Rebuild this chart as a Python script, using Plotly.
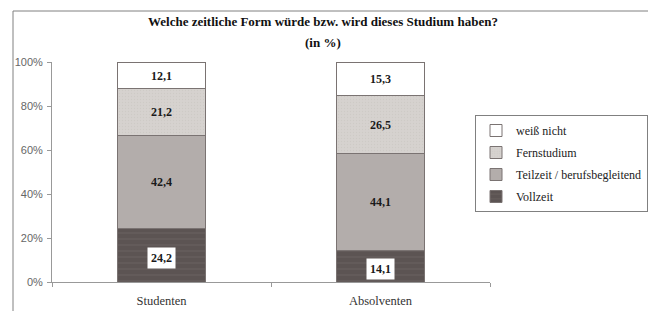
import plotly.graph_objects as go

categories = ["Studenten", "Absolventen"]
series_names = ["Vollzeit", "Teilzeit / berufsbegleitend", "Fernstudium", "weiß nicht"]
vollzeit = [24.2, 14.1]
teilzeit = [42.4, 44.1]
fernstudium = [21.2, 26.5]
weiss_nicht = [12.1, 15.3]
y_ticks = [0, 20, 40, 60, 80, 100]
y_tick_labels = ["0%", "20%", "40%", "60%", "80%", "100%"]

series_values = [vollzeit, teilzeit, fernstudium, weiss_nicht]
colors = ["#5c5453", "#b3adab", "#d6d2cf", "#ffffff"]
pattern_specs = [("-", "#7a7270", 6, 0.15), None, (".", "#c6c1be", 3, 0.2), None]

SERIF = "Liberation Serif"
OFF = 8  # page body margin
W, H = 656, 311
L, R, T, B = 52, 490, 62, 282  # plot area in screen pixels

fig = go.Figure()
for i, (name, vals, col, ps) in enumerate(zip(series_names, series_values, colors, pattern_specs)):
    pat = dict(shape=ps[0], fgcolor=ps[1], size=ps[2], solidity=ps[3]) if ps else None
    fig.add_trace(go.Bar(
        x=categories, y=vals, name=name, legendgroup=name, legendrank=10 - i,
        marker=dict(color=col, line=dict(color="#7a7372", width=1), pattern=pat),
        width=0.4,
        hoverinfo="skip",
    ))

annotations = []
for si, vals in enumerate(series_values):
    for ci, cat in enumerate(categories):
        base = sum(series_values[k][ci] for k in range(si))
        mid = base + vals[ci] / 2
        txt = "<b>" + f"{vals[ci]:.1f}".replace(".", ",") + "</b>"
        ann = dict(x=cat, y=mid, xref="x", yref="y", text=txt, showarrow=False,
                   font=dict(family=SERIF, size=12, color="#1a1a1a"))
        if si == 0:
            ann.update(bgcolor="#ffffff", borderpad=3, yshift=-3)
        annotations.append(ann)

px = lambda v: (v - L) / (R - L)
py = lambda v: (B - v) / (B - T)

annotations.append(dict(x=px(323), y=py(22), xref="paper", yref="paper", yanchor="middle",
                        text="<b>Welche zeitliche Form würde bzw. wird dieses Studium haben?</b>",
                        showarrow=False, font=dict(family=SERIF, size=13, color="#111")))
annotations.append(dict(x=px(323), y=py(43), xref="paper", yref="paper", yanchor="middle",
                        text="<b>(in %)</b>", showarrow=False,
                        font=dict(family=SERIF, size=13, color="#111")))

fig.update_layout(
    width=W - OFF, height=H - OFF,
    margin=dict(l=L - OFF, r=W - R, t=T - OFF, b=H - B, autoexpand=False),
    barmode="stack",
    plot_bgcolor="white", paper_bgcolor="white",
    showlegend=True,
    legend=dict(traceorder="grouped", tracegroupgap=3, x=px(475), y=py(115),
                xanchor="left", yanchor="top",
                bordercolor="#808080", borderwidth=1,
                font=dict(family=SERIF, size=12, color="#222"),
                itemwidth=30),
    annotations=annotations,
    shapes=[dict(type="rect", xref="paper", yref="paper",
                 x0=px(13), x1=px(654), y0=py(11), y1=py(330),
                 line=dict(color="#808080", width=1), fillcolor="rgba(0,0,0,0)")],
    xaxis=dict(showline=True, linecolor="#999", linewidth=1, ticks="outside", tickson="boundaries",
               ticklen=4, tickcolor="#999", showgrid=False, ticklabelstandoff=7,
               tickfont=dict(family=SERIF, size=12.5, color="#333"), fixedrange=True),
    yaxis=dict(range=[0, 100], tickvals=y_ticks, ticktext=y_tick_labels, showline=True,
               linecolor="#999", linewidth=1, ticks="outside", ticklen=4, tickcolor="#999",
               showgrid=False, zeroline=False, ticklabelstandoff=2,
               tickfont=dict(family="Liberation Sans", size=11, color="#666"),
               fixedrange=True),
    bargap=0.6,
)

fig.write_html("out.html")
